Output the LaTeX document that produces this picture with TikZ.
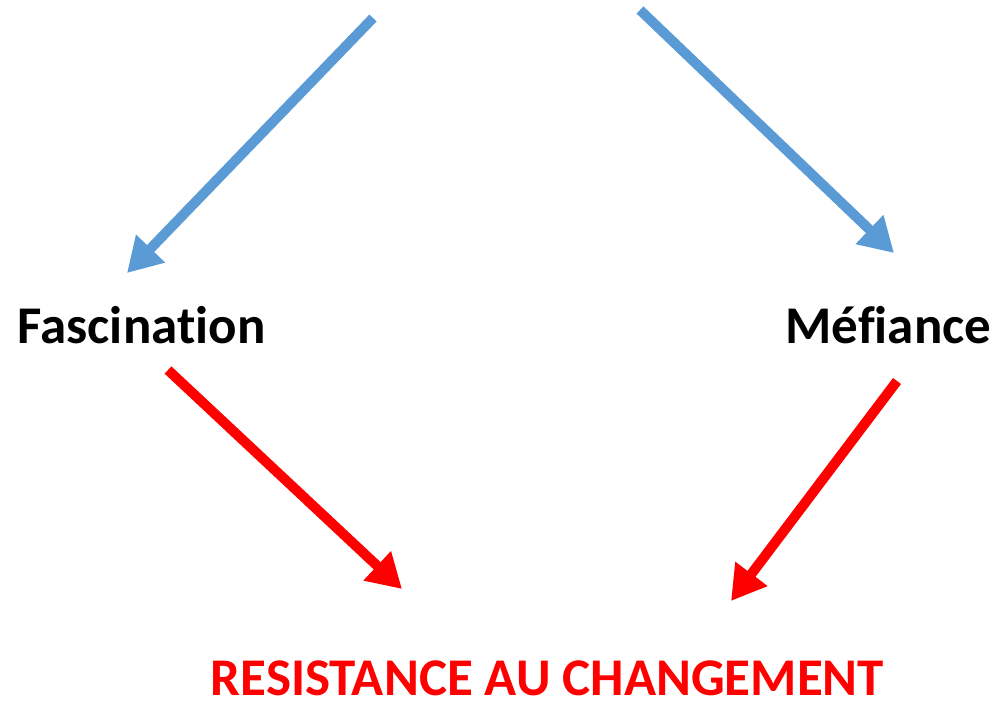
\documentclass[tikz,border=0pt]{standalone}
\usepackage{fontspec}
\setmainfont{Carlito}[Ligatures={NoCommon}]
\usetikzlibrary{arrows.meta}
\definecolor{arrblue}{RGB}{91,155,213}
\definecolor{arrred}{RGB}{255,0,0}
\begin{document}
\begin{tikzpicture}[x=1pt,y=-1pt,
  lbl/.style={anchor=base,inner sep=0pt,text depth=0pt,font=\fontsize{53}{60}\selectfont\bfseries},
  bluearr/.style={draw=arrblue,line width=10pt,-{Triangle[length=34pt,width=38pt]}},
  redarr/.style={draw=arrred,line width=10pt,-{Triangle[length=34pt,width=38pt]}}]
\useasboundingbox (0,0) rectangle (997,705);
\node[lbl] (fasc) at (141.5,343) {Fascination};
\node[lbl] (mef) at (888.5,343) {Méfiance};
\node[lbl,text=arrred] (res) at (547.5,695) {RESISTANCE AU CHANGEMENT};
\coordinate (b1s) at (373,18);
\coordinate (b1e) at (127,273);
\coordinate (b2s) at (640,10);
\coordinate (b2e) at (894,253);
\coordinate (r1s) at (168,370);
\coordinate (r1e) at (402,589);
\coordinate (r2s) at (897,381);
\coordinate (r2e) at (731,601);
\draw[bluearr] (b1s) -- (b1e);
\draw[bluearr] (b2s) -- (b2e);
\draw[redarr] (r1s) -- (r1e);
\draw[redarr] (r2s) -- (r2e);
\end{tikzpicture}
\end{document}
